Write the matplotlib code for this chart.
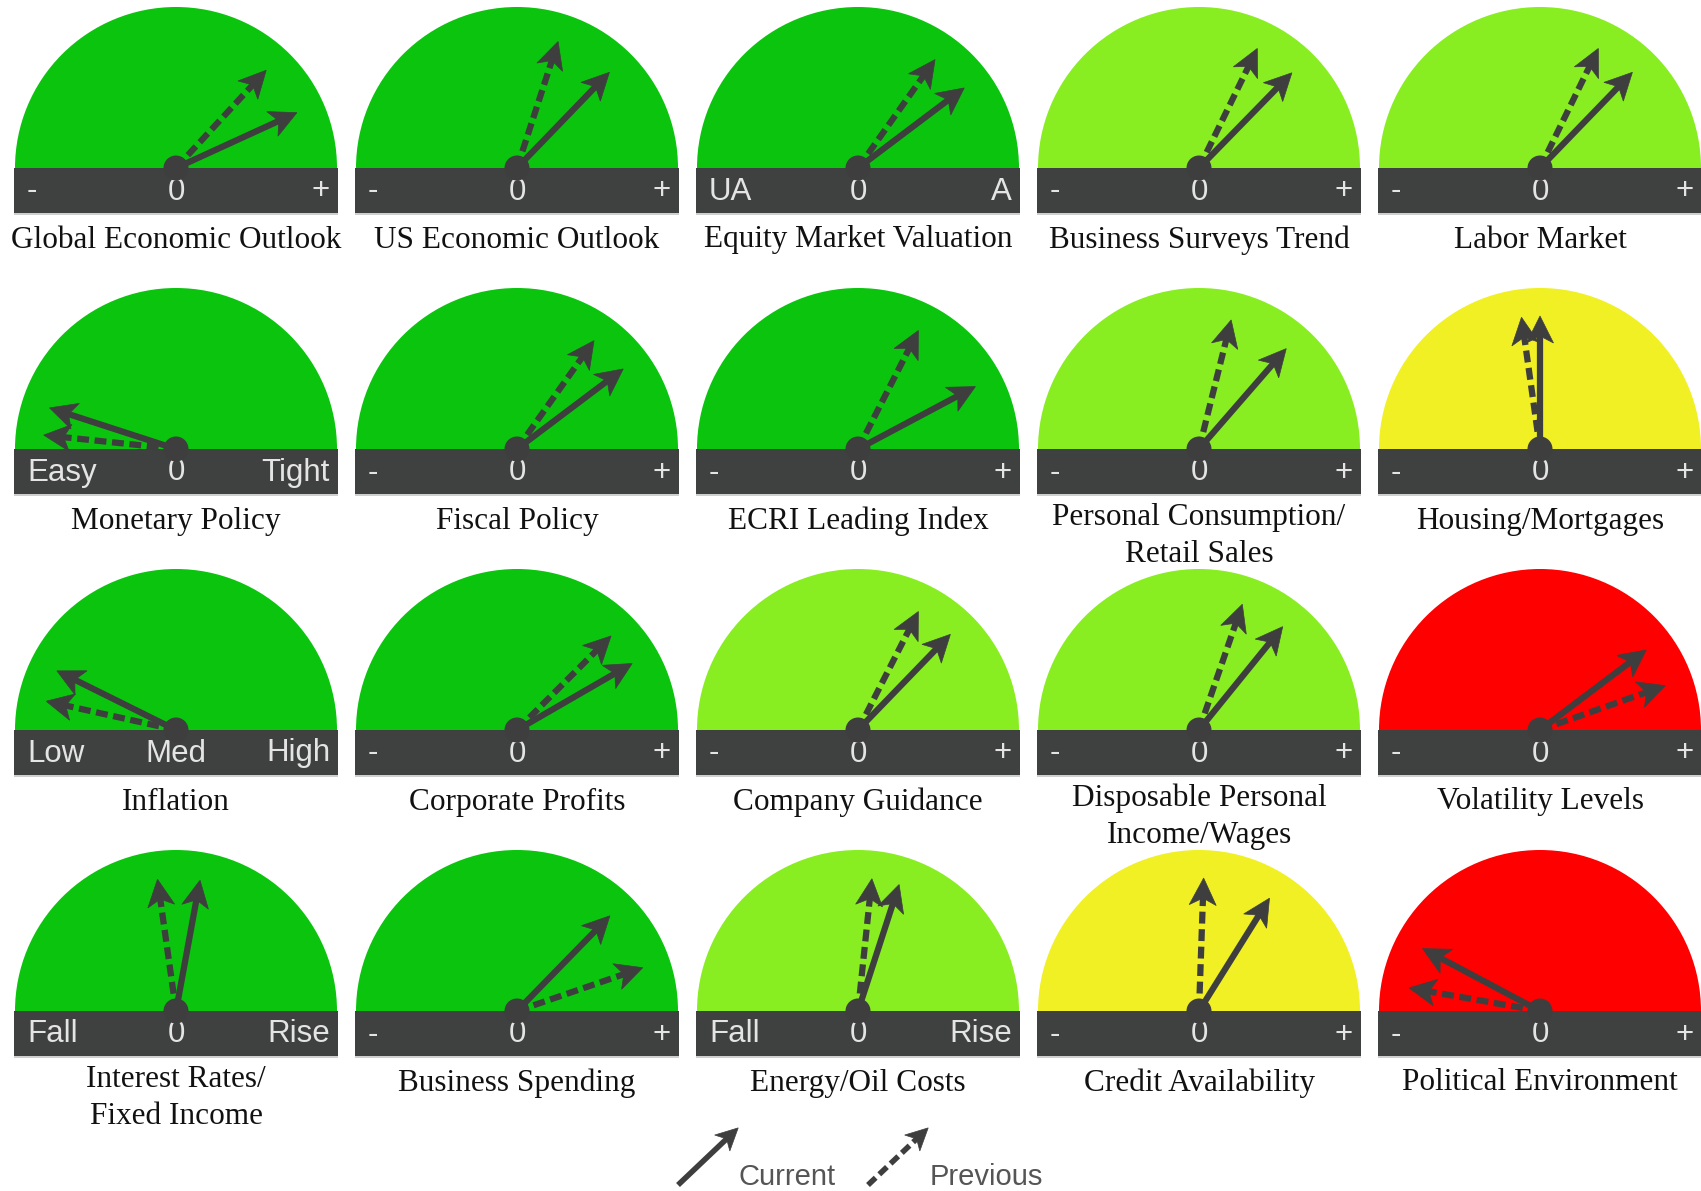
import matplotlib
matplotlib.use('Agg')
import matplotlib.pyplot as plt
import numpy as np
from matplotlib.patches import Wedge, Rectangle, Circle, Polygon

# ---------------- data ----------------
titles = [
    "Global Economic Outlook", "US Economic Outlook", "Equity Market Valuation",
    "Business Surveys Trend", "Labor Market",
    "Monetary Policy", "Fiscal Policy", "ECRI Leading Index",
    "Personal Consumption/\nRetail Sales", "Housing/Mortgages",
    "Inflation", "Corporate Profits", "Company Guidance",
    "Disposable Personal\nIncome/Wages", "Volatility Levels",
    "Interest Rates/\nFixed Income", "Business Spending", "Energy/Oil Costs",
    "Credit Availability", "Political Environment",
]
left_labels = ["-", "-", "UA", "-", "-",
               "Easy", "-", "-", "-", "-",
               "Low", "-", "-", "-", "-",
               "Fall", "-", "Fall", "-", "-"]
mid_labels = ["0", "0", "0", "0", "0",
              "0", "0", "0", "0", "0",
              "Med", "0", "0", "0", "0",
              "0", "0", "0", "0", "0"]
right_labels = ["+", "+", "A", "+", "+",
                "Tight", "+", "+", "+", "+",
                "High", "+", "+", "+", "+",
                "Rise", "+", "Rise", "+", "+"]
zones = ["dark", "dark", "dark", "light", "light",
         "dark", "dark", "dark", "light", "yellow",
         "dark", "dark", "light", "light", "red",
         "dark", "dark", "light", "yellow", "red"]
# needle angles in degrees (0 = far right "+", 180 = far left "-")
current_deg = [24.6, 46.0, 37.0, 45.7, 46.0,
               162.0, 37.0, 28.0, 49.0, 90.0,
               153.6, 30.0, 46.0, 51.0, 37.0,
               79.6, 45.7, 72.0, 58.0, 152.0]
previous_deg = [47.3, 72.0, 54.6, 64.0, 64.0,
                174.0, 54.6, 63.0, 76.0, 98.0,
                167.5, 45.0, 63.0, 71.0, 19.5,
                98.0, 19.0, 84.0, 88.0, 170.0]
legend_labels = ["Current", "Previous"]

# ---------------- style ----------------
palette = {"dark": "#0bc40e", "light": "#88ee22", "yellow": "#f0f024", "red": "#ff0000"}
BAR = "#3f4140"
ARROW = "#3e3e3e"
W, H = 1701, 1191

fig = plt.figure(figsize=(W / 100, H / 100), dpi=100)
ax = fig.add_axes([0, 0, 1, 1])
ax.set_xlim(0, W)
ax.set_ylim(H, 0)
ax.set_aspect("equal")
ax.axis("off")

col_x = [176 + 341 * i for i in range(5)]
row_y = [168 + 281 * j for j in range(4)]
R = 161
HALF = 162
BH = 45
L = 133


def draw_arrow(x0, y0, ang, length, dashed, hl=27, hw=13.5, notch=7, lw=4.5, z=5):
    a = np.radians(ang)
    ux, uy = np.cos(a), -np.sin(a)
    px, py = -uy, ux
    tx, ty = x0 + ux * length, y0 + uy * length
    bx, by = tx - ux * hl, ty - uy * hl
    nx, ny = tx - ux * (hl - notch), ty - uy * (hl - notch)
    ex, ey = tx - ux * (hl - notch - 2), ty - uy * (hl - notch - 2)
    ls = (0, (1.9, 0.9)) if dashed else "-"
    ax.plot([x0, ex], [y0, ey], color=ARROW, lw=lw, ls=ls,
            solid_capstyle="butt", dash_capstyle="butt", zorder=z)
    poly = Polygon([(tx, ty), (bx + px * hw, by + py * hw), (nx, ny),
                    (bx - px * hw, by - py * hw)], closed=True,
                   facecolor=ARROW, edgecolor=ARROW, lw=0.5, zorder=z)
    ax.add_patch(poly)


sans = ["Liberation Sans", "DejaVu Sans"]
serif = ["Liberation Serif", "DejaVu Serif"]

for k in range(20):
    r, c = divmod(k, 5)
    cx, top = col_x[c], row_y[r]
    ax.add_patch(Wedge((cx, top), R, 180, 360, facecolor=palette[zones[k]],
                       edgecolor="none", zorder=1))
    ax.add_patch(Rectangle((cx - HALF, top), 2 * HALF, BH, facecolor=BAR,
                           edgecolor="none", zorder=2))
    ax.add_patch(Rectangle((cx - HALF, top + BH), 2 * HALF, 2, facecolor="#cfcfcf",
                           edgecolor="none", zorder=2))
    ly = top + BH / 2 + 1
    ax.text(cx - HALF + 13, ly, left_labels[k], ha="left", va="center",
            color="#e4e4e4", fontsize=22.5, family=sans, zorder=3)
    ax.text(cx, ly, mid_labels[k], ha="center", va="center",
            color="#e4e4e4", fontsize=22.5, family=sans, zorder=3)
    ax.text(cx + HALF - 8, ly, right_labels[k], ha="right", va="center",
            color="#e4e4e4", fontsize=22.5, family=sans, zorder=3)
    draw_arrow(cx, top, previous_deg[k], L, True)
    draw_arrow(cx, top, current_deg[k], L, False)
    ax.add_patch(Circle((cx, top), 12.5, facecolor=ARROW, edgecolor="none", zorder=6))
    two = "\n" in titles[k]
    ty = top + (87 if two else 72)
    ax.text(cx, ty, titles[k], ha="center", va="center", fontsize=22.5,
            family=serif, color="#111111", linespacing=1.38, zorder=3)

# legend
draw_arrow(678, 1185, 43.5, 83, False, hl=22, hw=11, notch=6, lw=4.0)
ax.text(738, 1177, legend_labels[0], ha="left", va="center", fontsize=21,
        family=sans, color="#555555")
draw_arrow(868, 1185, 43.5, 83, True, hl=22, hw=11, notch=6, lw=4.0)
ax.text(930, 1177, legend_labels[1], ha="left", va="center", fontsize=21,
        family=sans, color="#555555")

fig.savefig("out.png", dpi=100, facecolor="white")
